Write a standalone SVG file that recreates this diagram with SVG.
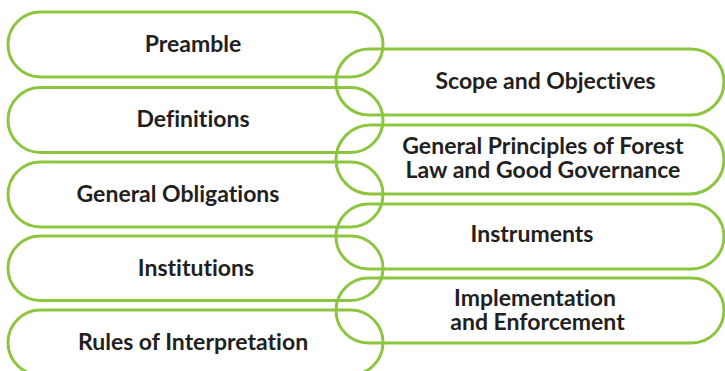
<svg xmlns="http://www.w3.org/2000/svg" width="725" height="371" viewBox="0 0 725 371">
<style>
.pill{fill:none;stroke:#8cc63f;stroke-width:3}
.t{font-family:Lato,"Open Sans","Liberation Sans",sans-serif;font-weight:bold;font-size:23px;fill:#231f20;text-anchor:middle;font-variant-ligatures:none}
</style>
<rect width="725" height="371" fill="#ffffff"/>
<g id="preamble"><rect class="pill" x="8" y="12" width="375" height="65" rx="32.5"/><text class="t" x="193" y="52">Preamble</text></g>
<g id="definitions"><rect class="pill" x="8" y="87.5" width="375" height="65" rx="32.5"/><text class="t" x="193" y="127">Definitions</text></g>
<g id="general-obligations"><rect class="pill" x="8" y="162" width="375" height="65" rx="32.5"/><text class="t" x="178" y="202">General Obligations</text></g>
<g id="institutions"><rect class="pill" x="8" y="236" width="375" height="64.5" rx="32.25"/><text class="t" x="196" y="276">Institutions</text></g>
<g id="rules"><rect class="pill" x="8" y="310" width="375" height="65" rx="32.5"/><text class="t" x="193" y="350">Rules of Interpretation</text></g>
<g id="scope"><rect class="pill" x="336" y="49" width="388" height="66" rx="33"/><text class="t" x="545.5" y="89">Scope and Objectives</text></g>
<g id="principles"><rect class="pill" x="336" y="125" width="388" height="69" rx="34.5"/><text class="t" x="543" y="154">General Principles of Forest</text><text class="t" x="543" y="178">Law and Good Governance</text></g>
<g id="instruments"><rect class="pill" x="336" y="204" width="388" height="65" rx="32.5"/><text class="t" x="532" y="242">Instruments</text></g>
<g id="implementation"><rect class="pill" x="336" y="278" width="388" height="65" rx="32.5"/><text class="t" x="535" y="306">Implementation</text><text class="t" x="537.5" y="330">and Enforcement</text></g>
<g id="connectors"></g>
</svg>
